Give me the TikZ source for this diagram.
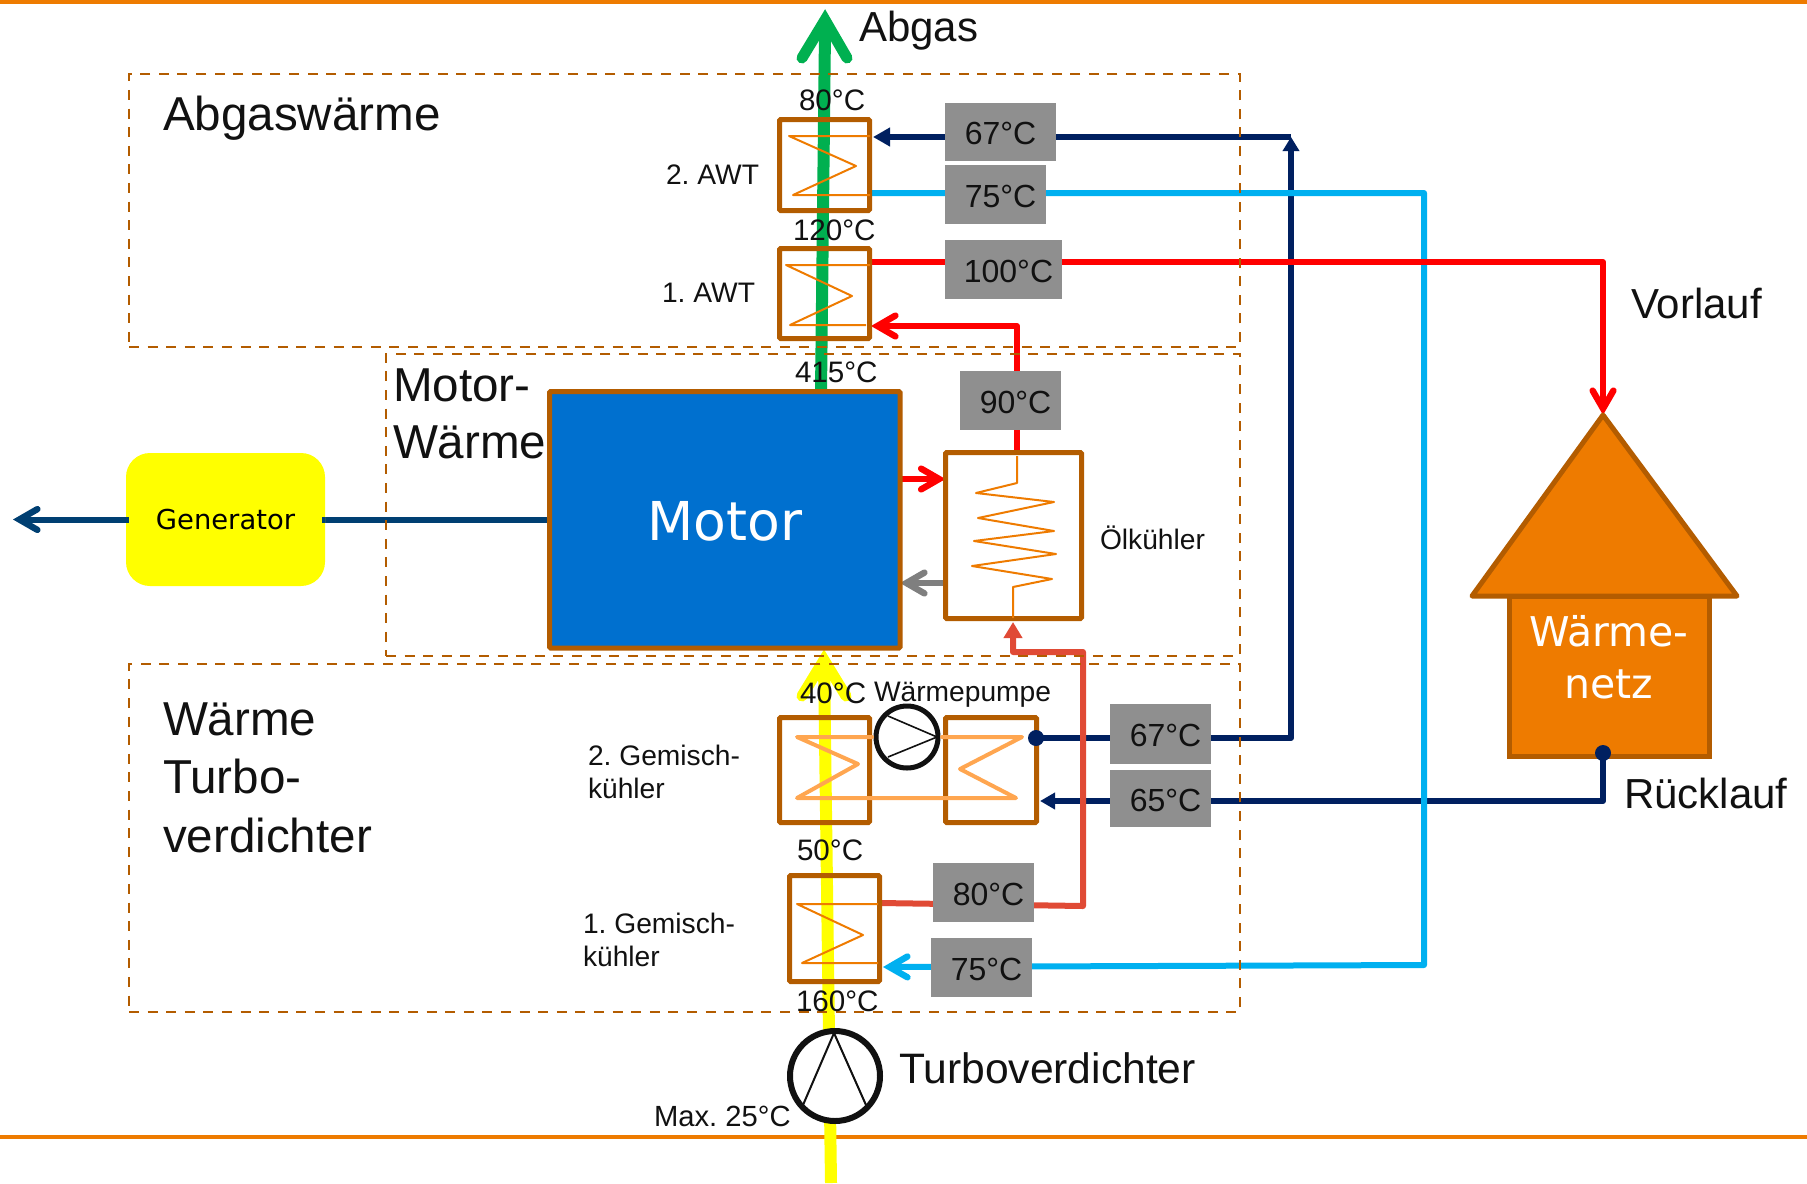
\documentclass[tikz,border=0pt]{standalone}
\usepackage{fontspec}
\setmainfont{Liberation Sans}
\newfontfamily\dejavu{DejaVu Sans}
\usetikzlibrary{arrows.meta,backgrounds}
\definecolor{brn}{HTML}{B35C00}
\definecolor{org}{HTML}{EE7B00}
\definecolor{lorg}{HTML}{FFA650}
\definecolor{grn}{HTML}{00B050}
\definecolor{ylw}{HTML}{FFFF00}
\definecolor{nvy}{HTML}{002060}
\definecolor{cyn}{HTML}{00B0F0}
\definecolor{rd}{HTML}{FF0000}
\definecolor{brd}{HTML}{E04A35}
\definecolor{gry}{HTML}{8F8F8F}
\definecolor{dgry}{HTML}{7F7F7F}
\definecolor{mot}{HTML}{0070CF}
\definecolor{gen}{HTML}{003F72}
\definecolor{txt}{HTML}{111111}
\tikzset{
  x=0.5pt,y=-0.5pt,
  hxbox/.style={draw=brn,line width=2.5pt,rounded corners=0.6pt,inner sep=0pt,outer sep=0pt},
  zonebox/.style={draw=brn,line width=1.2pt,dash pattern=on 5pt off 4.3pt,inner sep=0pt,outer sep=0pt},
  greybox/.style={fill=gry,inner sep=0pt,outer sep=0pt,text=txt,font=\fontsize{16}{18}\selectfont},
  coil/.style={draw=org,line width=1pt,line join=round},
  hpcoil/.style={draw=lorg,line width=2pt,line join=round,line cap=round},
  pipe/.style={line width=3pt,line join=round},
  barb/.style={-{Straight Barb[length=9pt,width=11pt,line width=3.2pt,line cap=round,line join=miter,angle'=60]}},
  navytip/.style={-{Triangle[length=8.5pt,width=9pt]}},
  lab/.style={anchor=base west,inner sep=0pt,outer sep=0pt,text=txt,align=left},
  f14/.style={font=\fontsize{14.1}{16.4}\selectfont},
  ft/.style={font=\fontsize{14.8}{17}\selectfont},
  f21/.style={font=\fontsize{21}{25}\selectfont},
  f20/.style={font=\fontsize{21.3}{25}\selectfont},
  f24/.style={font=\fontsize{23.8}{29.2}\selectfont},
  thinblk/.style={draw=txt,line width=0.8pt,line join=round},
}
\newcommand{\boxat}[6]{\node[#1,minimum width={(#5-#3)*0.5pt},minimum height={(#6-#4)*0.5pt}] (#2) at ({(#3+#5)/2},{(#4+#6)/2}) {};}
\newcommand{\gbox}[7]{\node[greybox,minimum width={(#4-#2)*0.5pt},minimum height={(#5-#3)*0.5pt}] (#1) at ({(#2+#4)/2},{(#3+#5)/2}) {\hspace*{#6pt}\raisebox{-6.3pt}[0pt][0pt]{#7}};}
\frenchspacing
\begin{document}
\begin{tikzpicture}
\useasboundingbox (0,0) rectangle (1807,1183);
% zones
\boxat{zonebox}{zoneA}{129}{74}{1240}{347}
\boxat{zonebox}{zoneM}{386}{354}{1240}{656}
\boxat{zonebox}{zoneT}{129}{664}{1240}{1012}
% exchangers
\boxat{hxbox}{awtB}{779.5}{119.5}{869.5}{210.5}
\boxat{hxbox}{awtA}{779.5}{248.5}{869.5}{338.5}
\boxat{hxbox}{oil}{945.5}{452.5}{1081.5}{618.5}
\boxat{hxbox}{gkB}{779.5}{717.5}{869.5}{822.5}
\boxat{hxbox}{hpR}{945.5}{717.5}{1036.5}{822.5}
\boxat{hxbox}{gkA}{789.5}{875.5}{879.5}{981.5}
\boxat{hxbox,fill=mot}{motor}{549.5}{391.5}{900}{648}
\node[text=white,font=\dejavu\fontsize{26.8}{30}\selectfont,anchor=base,inner sep=0pt] (motorT) at (725,540) {Motor};
\node[fill=ylw,rounded corners=12pt,minimum width=99.5pt,minimum height=66.5pt,inner sep=0pt,outer sep=0pt,font=\dejavu\fontsize{13.7}{16}\selectfont] (gen) at (225.5,519.5) {Generator};
% grey temperature boxes
\gbox{tA}{945}{103}{1056}{161}{0}{67°C}
\gbox{tB}{945}{165}{1046}{224}{5}{75°C}
\gbox{tC}{945}{240}{1062}{299}{5}{100°C}
\gbox{tD}{960}{371}{1061}{430}{5}{90°C}
\gbox{tE}{1110}{704}{1211}{764}{5}{67°C}
\gbox{tF}{1110}{770}{1211}{827}{5}{65°C}
\gbox{tG}{933}{863}{1034}{922}{5}{80°C}
\gbox{tH}{931}{938}{1032}{997}{5}{75°C}
% coils
\draw[coil] (870,136) -- (789,136) -- (856,166) -- (793,195) -- (870,195);
\draw[coil] (870,265) -- (786,265) -- (852,296) -- (790,325) -- (866,325);
\draw[coil] (1017,456) -- (1017,483) -- (976,493) -- (1054,502) -- (978,518) -- (1054,531) -- (974,541) -- (1056,554) -- (972,566) -- (1052,579) -- (1013,587) -- (1013,618);
\draw[coil] (878,904) -- (797,904) -- (863,935) -- (802,963) -- (878,963);
% compressors
\node[circle,draw=txt,line width=2.5pt,fill=white,minimum size=31pt,inner sep=0pt,outer sep=0pt] (hpc) at (907,737) {};
\draw[thinblk] (888,716) -- (937,737) -- (888,757);
\node[circle,draw=txt,line width=3pt,fill=white,minimum size=45pt,inner sep=0pt,outer sep=0pt] (turbo) at (835,1076) {};
\draw[thinblk,line width=1pt] (803,1105) -- (834,1033) -- (866,1105);
\draw[hpcoil] (872,737) -- (797,737) -- (858,764) -- (797,798) -- (1016,798) -- (960,769) -- (1022,737) -- (942,737);
% house
\node[fill=org,draw=brn,line width=2.5pt,inner sep=0pt,outer sep=0pt,minimum width=100pt,minimum height=80pt] (house) at (1609,676) {};
\draw[fill=org,draw=brn,line width=2.5pt,line join=round] (1603,415) coordinate (roof) -- (1472,596) -- (1737,596) -- cycle;
\node[text=white,font=\dejavu\fontsize{20.5}{26}\selectfont,align=center,anchor=base,inner sep=0pt] (houseT) at (1609,698) {Wärme-\\netz};
% connectors (behind the boxes)
\begin{pgfonlayer}{background}
  \coordinate (edgeTl) at (0,2); \coordinate (edgeTr) at (1807,2);
  \coordinate (edgeBl) at (0,1137); \coordinate (edgeBr) at (1807,1137);
  \draw[org,line width=2pt] (edgeTl) -- (edgeTr);
  \draw[org,line width=2pt] (edgeBl) -- (edgeBr);
  % air and exhaust
  \coordinate (airIn) at (831,1183); \coordinate (airTip) at (824,664);
  \draw[ylw,line width=6pt] (airIn) -- (airTip);
  \coordinate (airL) at (802,696); \coordinate (airR) at (846,696);
  \draw[ylw,line width=5.5pt,line cap=round,line join=miter] (airL) -- (824,660) -- (airR);
  \coordinate (gasIn) at (821,392); \coordinate (gasTip) at (825,30);
  \draw[grn,line width=6pt] (gasIn) -- (gasTip);
  \coordinate (gasL) at (802,58); \coordinate (gasR) at (847,58);
  \draw[grn,line width=5.5pt,line cap=round,line join=miter] (gasL) -- (825,20) -- (gasR);
  % shaft
  \coordinate (shaftEnd) at (13,519.5);
  \draw[gen,pipe,barb] (gen.west) -- (shaftEnd);
  \draw[gen,pipe] (gen.east) -- (motor.west |- gen.east);
  % cold return
  \coordinate (tee) at (1291,738); \coordinate (teeTop) at (1291,137);
  \coordinate (hpDot) at (1036,738); \coordinate (awtCold) at (873,137);
  \coordinate (housePort) at (1603,753); \coordinate (retCorner) at (1603,801);
  \coordinate (hpCold) at (1040,801);
  \draw[nvy,pipe,navytip] (teeTop) -- (awtCold);
  \draw[nvy,pipe,-{Triangle[length=7pt,width=8pt]}] (hpDot) -- (tee) -- (teeTop);
  \draw[nvy,pipe,-{Triangle[length=7.5pt,width=8pt]}] (housePort) -- (retCorner) -- (hpCold);
  % 75 degree line
  \coordinate (c1) at (869,193); \coordinate (c2) at (1424,193);
  \coordinate (c3) at (1424,965); \coordinate (c4) at (883,967);
  \draw[cyn,pipe,barb] (c1) -- (c2) -- (c3) -- (c4);
  % supply
  \coordinate (s1) at (869,262); \coordinate (s2) at (1603,262);
  \draw[rd,pipe,barb] (s1) -- (s2) -- (roof);
  \coordinate (oilOut) at (1017,452); \coordinate (m1) at (1017,326); \coordinate (m2) at (871,326);
  \draw[rd,pipe,barb] (oilOut) -- (m1) -- (m2);
  \draw[rd,pipe,barb] (motor.east |- 0,479) -- (oil.west |- 0,479);
  \draw[dgry,pipe,barb] (oil.west |- 0,583) -- (motor.east |- 0,583);
  % first mixture cooler to oil cooler
  \coordinate (b1) at (880,903); \coordinate (b2) at (1083,906);
  \coordinate (b3) at (1083,652); \coordinate (b4) at (1013,652); \coordinate (b5) at (1013,622);
  \draw[brd,pipe,-{Triangle[length=8pt,width=9pt]}] (b1) -- (b2) -- (b3) -- (b4) -- (b5);
\end{pgfonlayer}
\draw[gen,pipe] (gen.west) -- ++(3,0);
\draw[gen,pipe] (gen.east) -- ++(-3,0);
\fill[nvy] (hpDot) circle (4pt);
\fill[nvy] (housePort) circle (4pt);
% labels
\node[lab,f21] (l1) at (859,41) {Abgas};
\node[lab,ft] (l2) at (799,110) {80°C};
\node[lab,f14] (l3) at (666,184) {2. AWT};
\node[lab,ft] (l4) at (793,240) {120°C};
\node[lab,f14] (l5) at (662,302) {1. AWT};
\node[lab,ft] (l6) at (795,382) {415°C};
\node[lab,f14] (l7) at (1100,549) {Ölkühler};
\node[lab,f14] (l8) at (874,701) {Wärmepumpe};
\node[lab,ft] (l9) at (800,703) {40°C};
\node[lab,f14] (l10) at (588,798) {2. Gemisch-\\kühler};
\node[lab,ft] (l11) at (797,860) {50°C};
\node[lab,f14] (l12) at (583,966) {1. Gemisch-\\kühler};
\node[lab,ft] (l13) at (796,1011) {160°C};
\node[lab,font=\fontsize{14.6}{17}\selectfont] (l14) at (654,1126) {Max. 25°C};
\node[lab,f20] (l15) at (899,1083) {Turboverdichter};
\node[lab,f24] (l16) at (163,130) {Abgaswärme};
\node[lab,font=\fontsize{23.8}{28.5}\selectfont] (l17) at (393,458) {Motor-\\Wärme};
\node[lab,f24] (l18) at (163,852) {Wärme\\Turbo-\\verdichter};
\node[lab,f21] (l19) at (1631,318) {Vorlauf};
\node[lab,f21] (l20) at (1624,808) {Rücklauf};
\end{tikzpicture}
\end{document}
